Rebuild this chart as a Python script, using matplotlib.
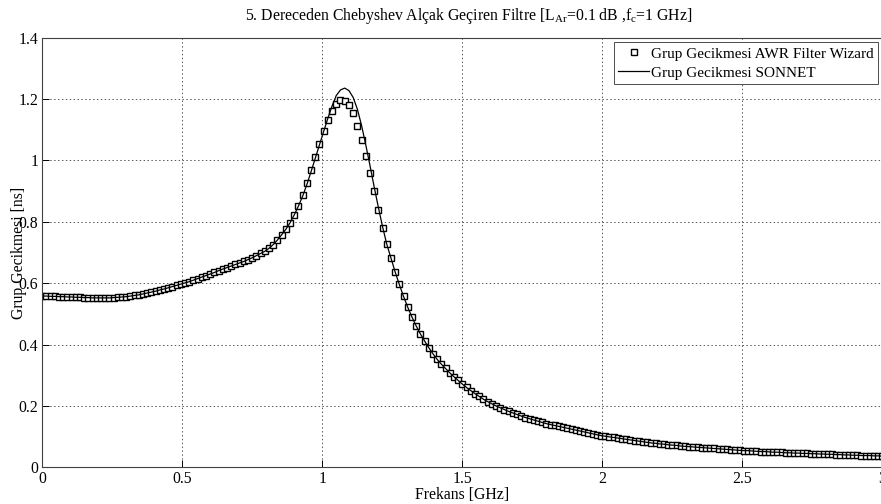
import numpy as np
import matplotlib
matplotlib.use("Agg")
import matplotlib.pyplot as plt

plt.rcParams["font.family"] = ["Liberation Serif", "DejaVu Serif"]
plt.rcParams["mathtext.fontset"] = "custom"
plt.rcParams["mathtext.rm"] = "Liberation Serif"
plt.rcParams["mathtext.it"] = "Liberation Serif"

# frequency grid [GHz], step 0.015
freq = np.linspace(0, 3, 201)

# AWR Filter Wizard group delay [ns] (markers)
awr = [
    0.558, 0.558, 0.557, 0.557, 0.556, 0.556, 0.555, 0.555, 0.554, 0.554,
    0.553, 0.553, 0.552, 0.552, 0.552, 0.552, 0.552, 0.553, 0.554, 0.555,
    0.556, 0.558, 0.560, 0.562, 0.565, 0.568, 0.571, 0.574, 0.578, 0.581,
    0.585, 0.589, 0.593, 0.597, 0.601, 0.605, 0.610, 0.615, 0.620, 0.625,
    0.630, 0.635, 0.641, 0.646, 0.651, 0.656, 0.661, 0.666, 0.671, 0.677,
    0.683, 0.690, 0.697, 0.704, 0.714, 0.726, 0.741, 0.758, 0.776, 0.797,
    0.823, 0.852, 0.886, 0.925, 0.968, 1.012, 1.055, 1.095, 1.131, 1.161,
    1.184, 1.196, 1.195, 1.180, 1.156, 1.114, 1.068, 1.014, 0.958, 0.900,
    0.838, 0.781, 0.727, 0.682, 0.637, 0.596, 0.557, 0.522, 0.490, 0.461,
    0.435, 0.412, 0.390, 0.370, 0.352, 0.336, 0.322, 0.308, 0.295, 0.283,
    0.271, 0.260, 0.250, 0.240, 0.231, 0.222, 0.214, 0.207, 0.200, 0.194,
    0.188, 0.182, 0.177, 0.172, 0.167, 0.162, 0.158, 0.154, 0.150, 0.146,
    0.142, 0.139, 0.136, 0.133, 0.130, 0.127, 0.124, 0.121, 0.118, 0.115,
    0.112, 0.109, 0.106, 0.103, 0.101, 0.099, 0.097, 0.095, 0.093, 0.091,
    0.089, 0.087, 0.085, 0.083, 0.081, 0.079, 0.078, 0.076, 0.075, 0.073,
    0.072, 0.071, 0.069, 0.068, 0.067, 0.066, 0.065, 0.064, 0.063, 0.062,
    0.061, 0.060, 0.059, 0.058, 0.057, 0.056, 0.055, 0.054, 0.054, 0.053,
    0.052, 0.051, 0.051, 0.050, 0.049, 0.049, 0.048, 0.047, 0.047, 0.046,
    0.046, 0.045, 0.045, 0.044, 0.044, 0.043, 0.043, 0.042, 0.042, 0.041,
    0.041, 0.040, 0.040, 0.039, 0.039, 0.038, 0.038, 0.038, 0.037, 0.037,
    0.036,
]

# SONNET group delay [ns] (line)
sonnet = [
    0.558, 0.558, 0.557, 0.557, 0.556, 0.556, 0.555, 0.555, 0.554, 0.554,
    0.553, 0.553, 0.552, 0.552, 0.552, 0.552, 0.552, 0.553, 0.554, 0.555,
    0.556, 0.558, 0.560, 0.562, 0.565, 0.568, 0.571, 0.574, 0.578, 0.581,
    0.585, 0.589, 0.593, 0.597, 0.601, 0.605, 0.610, 0.615, 0.620, 0.625,
    0.630, 0.635, 0.641, 0.646, 0.651, 0.656, 0.661, 0.666, 0.671, 0.677,
    0.683, 0.690, 0.697, 0.704, 0.714, 0.726, 0.741, 0.758, 0.776, 0.797,
    0.823, 0.852, 0.884, 0.922, 0.964, 1.008, 1.052, 1.095, 1.138, 1.178,
    1.212, 1.230, 1.236, 1.228, 1.206, 1.168, 1.115, 1.052, 0.985, 0.915,
    0.848, 0.785, 0.728, 0.682, 0.637, 0.596, 0.557, 0.522, 0.490, 0.461,
    0.435, 0.412, 0.390, 0.370, 0.352, 0.336, 0.322, 0.308, 0.295, 0.283,
    0.271, 0.260, 0.250, 0.240, 0.231, 0.222, 0.214, 0.207, 0.200, 0.194,
    0.188, 0.182, 0.177, 0.172, 0.167, 0.162, 0.158, 0.154, 0.150, 0.146,
    0.142, 0.139, 0.136, 0.133, 0.130, 0.127, 0.124, 0.121, 0.118, 0.115,
    0.112, 0.109, 0.106, 0.103, 0.101, 0.099, 0.097, 0.095, 0.093, 0.091,
    0.089, 0.087, 0.085, 0.083, 0.081, 0.079, 0.078, 0.076, 0.075, 0.073,
    0.072, 0.071, 0.069, 0.068, 0.067, 0.066, 0.065, 0.064, 0.063, 0.062,
    0.061, 0.060, 0.059, 0.058, 0.057, 0.056, 0.055, 0.054, 0.054, 0.053,
    0.052, 0.051, 0.051, 0.050, 0.049, 0.049, 0.048, 0.047, 0.047, 0.046,
    0.046, 0.045, 0.045, 0.044, 0.044, 0.043, 0.043, 0.042, 0.042, 0.041,
    0.041, 0.040, 0.040, 0.039, 0.039, 0.038, 0.038, 0.038, 0.037, 0.037,
    0.036,
]

xticks = [0, 0.5, 1, 1.5, 2, 2.5, 3]
yticks = [0, 0.2, 0.4, 0.6, 0.8, 1, 1.2, 1.4]

fig = plt.figure(figsize=(8.81, 5.04), dpi=100)
ax = fig.add_axes([0.048, 0.073, 0.9535, 0.852])

ax.plot(freq, awr, "s", ms=4.3, mfc="white", mec="black", mew=1.0,
        label="Grup Gecikmesi AWR Filter Wizard")
ax.plot(freq, sonnet, "-", color="black", lw=0.9, label="Grup Gecikmesi SONNET")

ax.set_xlim(0, 3)
ax.set_ylim(0, 1.4)
ax.set_xticks(xticks)
ax.set_xticklabels(["0", "0.5", "1", "1.5", "2", "2.5", "3"])
ax.set_yticks(yticks)
ax.set_yticklabels(["0", "0.2", "0.4", "0.6", "0.8", "1", "1.2", "1.4"])
ax.tick_params(direction="in", length=5, width=0.7, labelsize=11.3, pad=3)
ax.grid(True, linestyle=(0, (1.5, 2.5)), color="0.35", lw=0.7)
for s in ax.spines.values():
    s.set_linewidth(0.8)
    s.set_color("0.25")

ax.set_title("5. Dereceden Chebyshev Alçak Geçiren Filtre "
             "[$\\mathregular{L_{Ar}}$=0.1 dB ,$\\mathregular{f_{c}}$=1 GHz]",
             fontsize=11.3, pad=13, x=0.508)
ax.set_xlabel("Frekans [GHz]", fontsize=11.3, labelpad=0)
ax.set_ylabel("Grup Gecikmesi [ns]", fontsize=11.3, labelpad=-6)

leg = ax.legend(loc="upper right", numpoints=1, fontsize=11, fancybox=False,
                edgecolor="0.3", framealpha=1, borderaxespad=0.3,
                handlelength=2.0, handletextpad=0.1, borderpad=0.3,
                labelspacing=0.35)
leg.get_frame().set_linewidth(0.7)

fig.savefig("out.png", dpi=100)
